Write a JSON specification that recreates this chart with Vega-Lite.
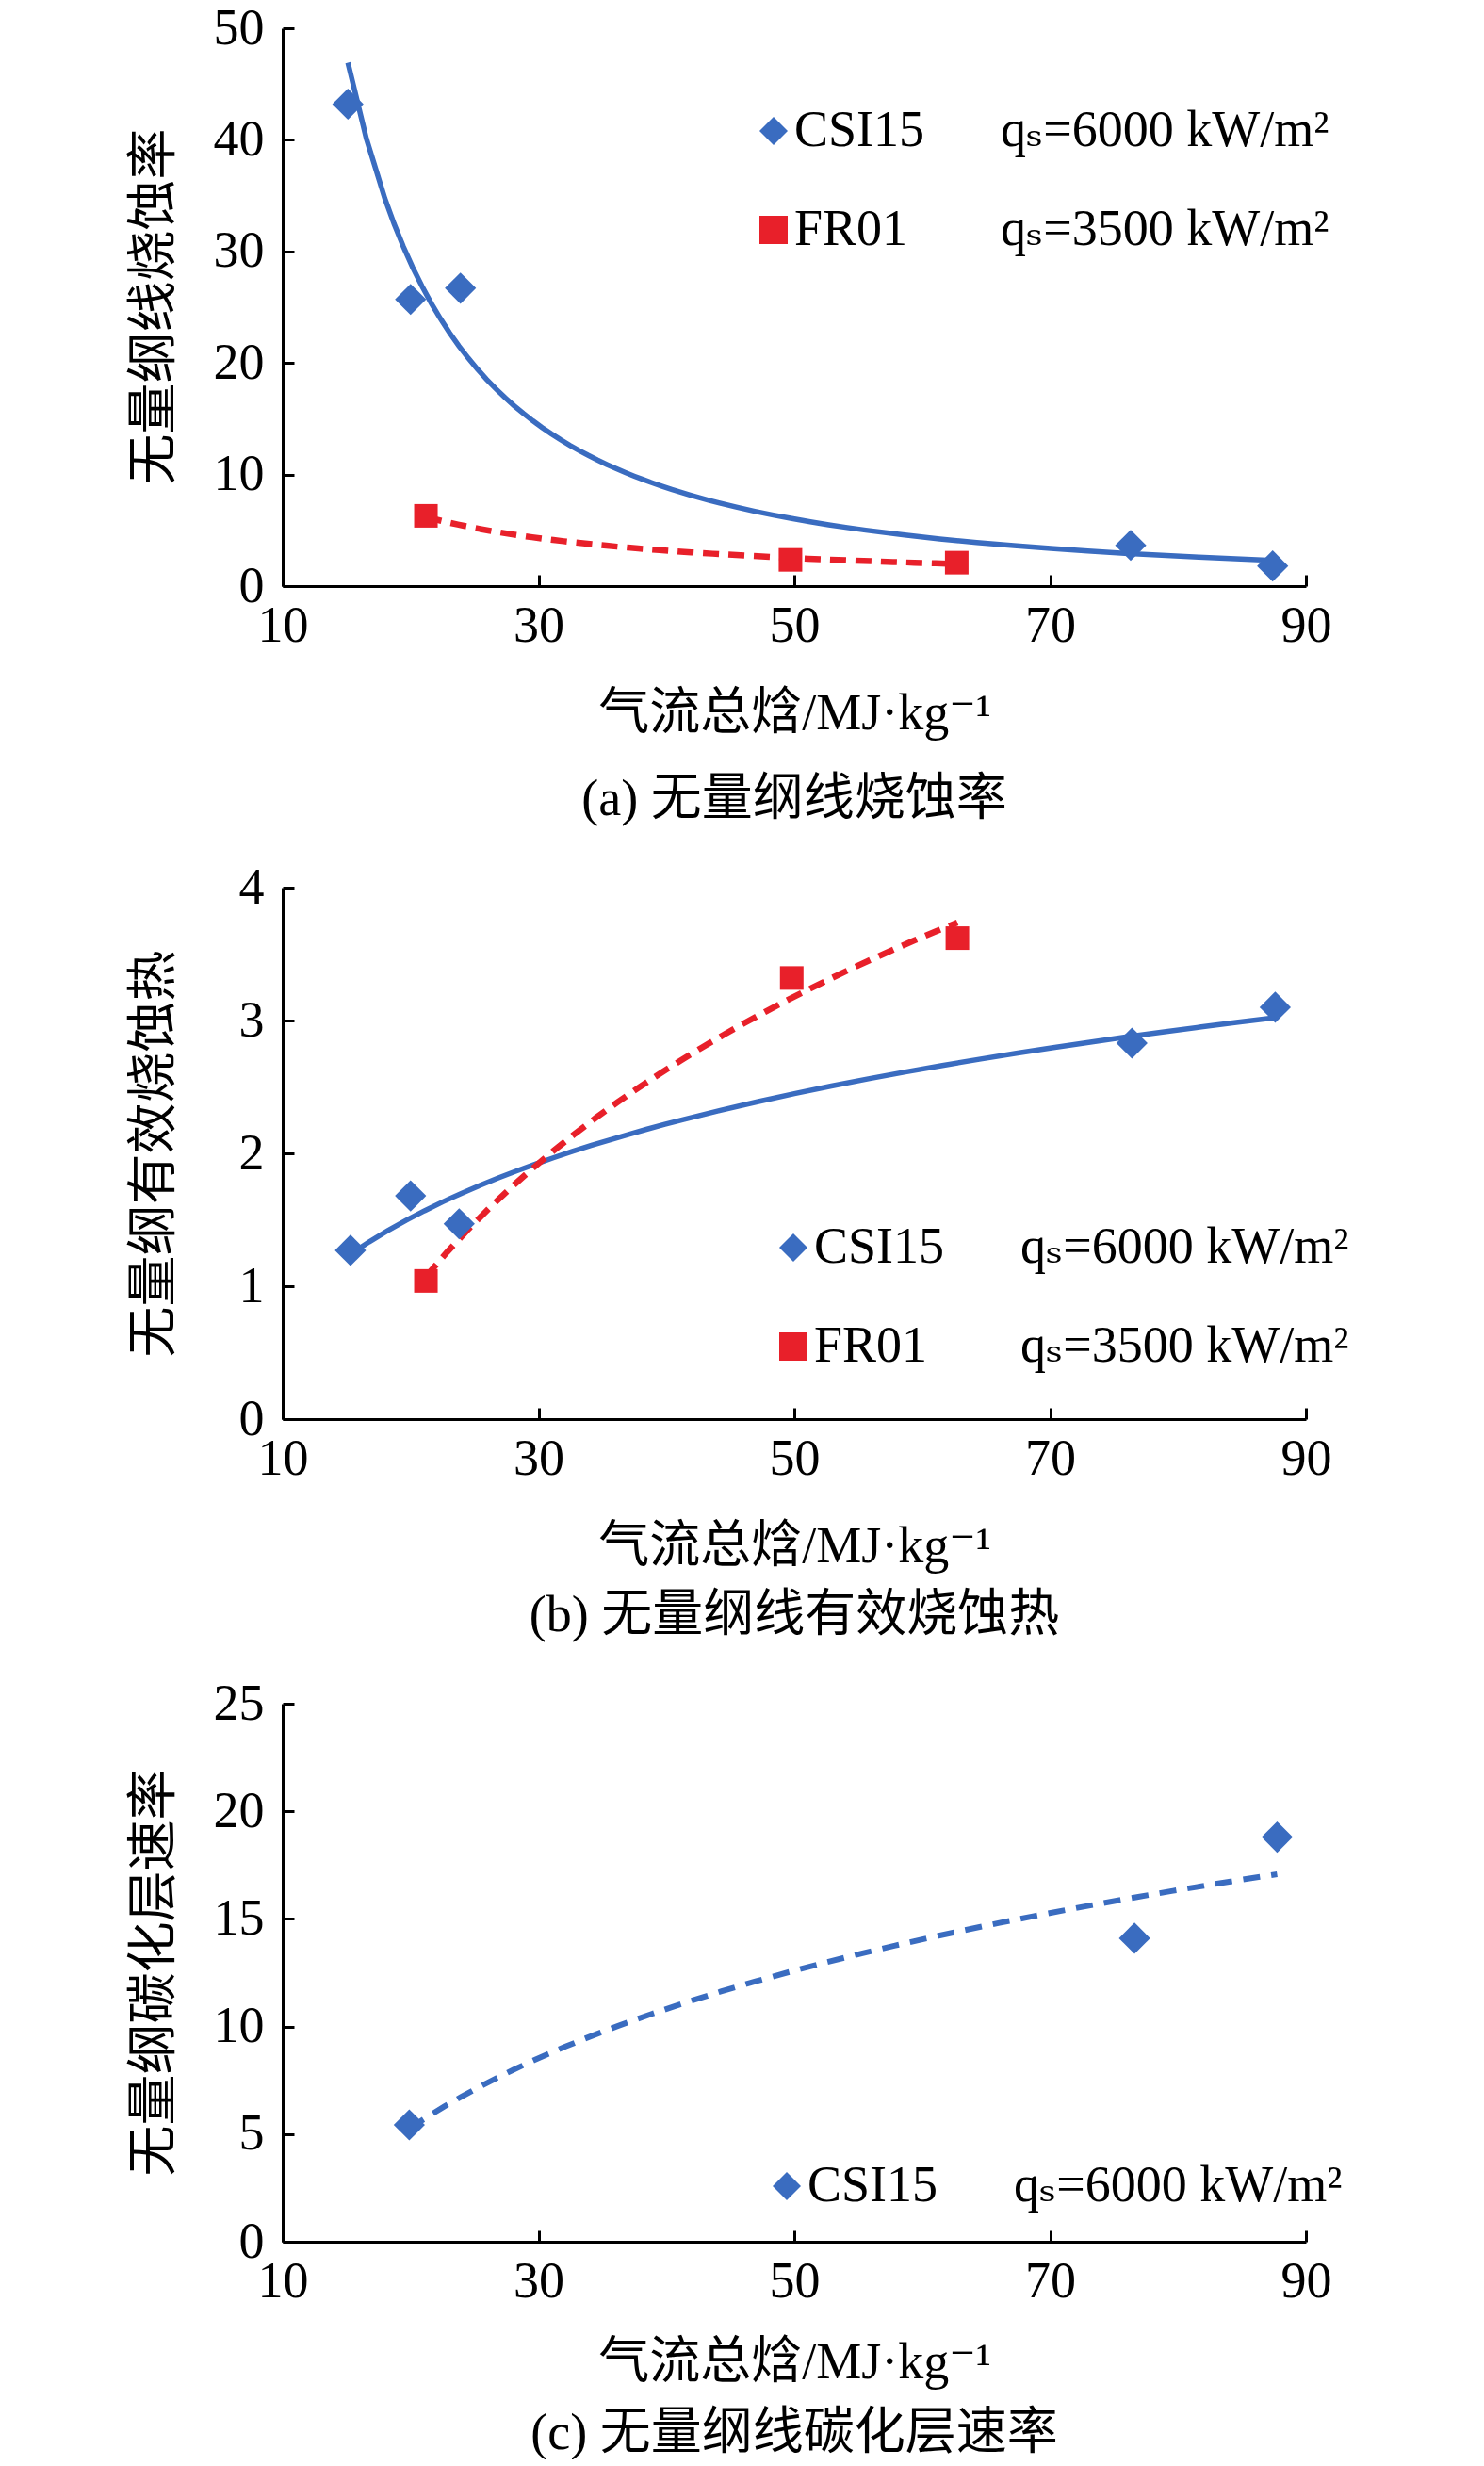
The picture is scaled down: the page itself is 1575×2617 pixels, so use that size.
{
  "$schema": "https://vega.github.io/schema/vega-lite/v6.json",
  "background": "white",
  "padding": {"left": 136, "top": 3, "right": 20, "bottom": 0},
  "spacing": 39,
  "config": {
    "font": "Liberation Serif, DejaVu Serif, Noto Sans CJK SC",
    "view": {"stroke": null},
    "axis": {
      "grid": false,
      "domainColor": "black",
      "domainWidth": 3,
      "tickColor": "black",
      "tickWidth": 3,
      "tickSize": -12,
      "labelFontSize": 54,
      "labelColor": "black",
      "labelFlush": false,
      "labelOverlap": false,
      "titleFontSize": 54,
      "titleFontWeight": "normal",
      "titleColor": "black"
    },
    "axisX": {"labelPadding": 27, "titleBaseline": "middle", "titleY": 135},
    "axisY": {"labelPadding": 32, "titleBaseline": "middle", "titleX": -136, "titleAngle": 270},
    "legend": {
      "orient": "none",
      "title": null,
      "labelFontSize": 54,
      "labelColor": "black",
      "labelLimit": 0,
      "symbolSize": 900,
      "symbolStrokeWidth": 0,
      "labelOffset": -5,
      "rowPadding": 51
    },
    "title": {"fontSize": 54, "fontWeight": "normal", "color": "black", "orient": "bottom", "offset": 34}
  },
  "datasets": {
    "pts": [
      {"panel": "a", "series": "CSI15", "x": 15.1, "y": 43.2},
      {"panel": "a", "series": "CSI15", "x": 20.0, "y": 25.7},
      {"panel": "a", "series": "CSI15", "x": 23.9, "y": 26.7},
      {"panel": "a", "series": "CSI15", "x": 76.3, "y": 3.65},
      {"panel": "a", "series": "CSI15", "x": 87.4, "y": 1.8},
      {"panel": "a", "series": "FR01", "x": 21.2, "y": 6.3},
      {"panel": "a", "series": "FR01", "x": 49.7, "y": 2.35},
      {"panel": "a", "series": "FR01", "x": 62.7, "y": 2.1},
      {"panel": "b", "series": "CSI15", "x": 15.3, "y": 1.27},
      {"panel": "b", "series": "CSI15", "x": 20.0, "y": 1.68},
      {"panel": "b", "series": "CSI15", "x": 23.8, "y": 1.47},
      {"panel": "b", "series": "CSI15", "x": 76.4, "y": 2.83},
      {"panel": "b", "series": "CSI15", "x": 87.6, "y": 3.1},
      {"panel": "b", "series": "FR01", "x": 21.2, "y": 1.04},
      {"panel": "b", "series": "FR01", "x": 49.8, "y": 3.32},
      {"panel": "b", "series": "FR01", "x": 62.75, "y": 3.62},
      {"panel": "c", "series": "CSI15", "x": 19.9, "y": 5.43},
      {"panel": "c", "series": "CSI15", "x": 76.6, "y": 14.1},
      {"panel": "c", "series": "CSI15", "x": 87.75, "y": 18.8}
    ]
  },
  "resolve": {
    "scale": {"color": "independent", "shape": "independent", "x": "independent", "y": "independent"},
    "legend": {"color": "independent", "shape": "independent"}
  },
  "vconcat": [
    {
      "width": 1086,
      "height": 592,
      "title": {"text": "(a) 无量纲线烧蚀率", "offset": 38},
      "data": {"name": "pts"},
      "transform": [{"filter": "datum.panel == 'a'"}],
      "encoding": {
        "x": {"field": "x", "type": "quantitative", "scale": {"domain": [10, 90]},
              "axis": {"values": [10, 30, 50, 70, 90], "title": "气流总焓/MJ·kg⁻¹"}},
        "y": {"field": "y", "type": "quantitative", "scale": {"domain": [0, 50]},
              "axis": {"values": [0, 10, 20, 30, 40, 50], "title": "无量纲线烧蚀率", "titleY": 295}}
      },
      "layer": [
        {
          "transform": [{"filter": "datum.series == 'CSI15'"}, {"regression": "y", "on": "x", "method": "pow"}],
          "mark": {"type": "line", "color": "#3a6cc0", "strokeWidth": 5.5}
        },
        {
          "transform": [{"filter": "datum.series == 'FR01'"}, {"regression": "y", "on": "x", "method": "pow"}],
          "mark": {"type": "line", "color": "#e8202a", "strokeWidth": 6.5, "strokeDash": [17, 10]}
        },
        {
          "mark": {"type": "point", "filled": true, "opacity": 1},
          "encoding": {
            "color": {"field": "series", "type": "nominal",
                      "scale": {"domain": ["CSI15", "FR01"], "range": ["#3a6cc0", "#e8202a"]},
                      "legend": {"legendX": 494, "legendY": 82,
                                 "labelExpr": "datum.label == 'CSI15' ? 'CSI15\u2003\u2002qₛ=6000 kW/m²' : 'FR01\u2003\u2002\u2004qₛ=3500 kW/m²'"}},
            "shape": {"field": "series", "type": "nominal",
                      "scale": {"domain": ["CSI15", "FR01"], "range": ["diamond", "square"]},
                      "legend": {"legendX": 494, "legendY": 82,
                                 "labelExpr": "datum.label == 'CSI15' ? 'CSI15\u2003\u2002qₛ=6000 kW/m²' : 'FR01\u2003\u2002\u2004qₛ=3500 kW/m²'"}},
            "size": {"condition": {"test": "datum.series == 'CSI15'", "value": 1100}, "value": 625}
          }
        }
      ]
    },
    {
      "width": 1086,
      "height": 564,
      "title": {"text": "(b) 无量纲线有效烧蚀热", "offset": 20},
      "data": {"name": "pts"},
      "transform": [{"filter": "datum.panel == 'b'"}],
      "encoding": {
        "x": {"field": "x", "type": "quantitative", "scale": {"domain": [10, 90]},
              "axis": {"values": [10, 30, 50, 70, 90], "title": "气流总焓/MJ·kg⁻¹"}},
        "y": {"field": "y", "type": "quantitative", "scale": {"domain": [0, 4]},
              "axis": {"values": [0, 1, 2, 3, 4], "title": "无量纲有效烧蚀热", "titleY": 282}}
      },
      "layer": [
        {
          "transform": [{"filter": "datum.series == 'CSI15'"}, {"regression": "y", "on": "x", "method": "log"}],
          "mark": {"type": "line", "color": "#3a6cc0", "strokeWidth": 5.5}
        },
        {
          "transform": [{"filter": "datum.series == 'FR01'"}, {"regression": "y", "on": "x", "method": "log"}],
          "mark": {"type": "line", "color": "#e8202a", "strokeWidth": 6.5, "strokeDash": [17, 10]}
        },
        {
          "mark": {"type": "point", "filled": true, "opacity": 1},
          "encoding": {
            "color": {"field": "series", "type": "nominal",
                      "scale": {"domain": ["CSI15", "FR01"], "range": ["#3a6cc0", "#e8202a"]},
                      "legend": {"legendX": 515, "legendY": 355,
                                 "labelExpr": "datum.label == 'CSI15' ? 'CSI15\u2003\u2002qₛ=6000 kW/m²' : 'FR01\u2003\u2002\u2004qₛ=3500 kW/m²'"}},
            "shape": {"field": "series", "type": "nominal",
                      "scale": {"domain": ["CSI15", "FR01"], "range": ["diamond", "square"]},
                      "legend": {"legendX": 515, "legendY": 355,
                                 "labelExpr": "datum.label == 'CSI15' ? 'CSI15\u2003\u2002qₛ=6000 kW/m²' : 'FR01\u2003\u2002\u2004qₛ=3500 kW/m²'"}},
            "size": {"condition": {"test": "datum.series == 'CSI15'", "value": 1100}, "value": 625}
          }
        }
      ]
    },
    {
      "width": 1086,
      "height": 571,
      "title": {"text": "(c) 无量纲线碳化层速率", "offset": 22},
      "data": {"name": "pts"},
      "transform": [{"filter": "datum.panel == 'c'"}],
      "encoding": {
        "x": {"field": "x", "type": "quantitative", "scale": {"domain": [10, 90]},
              "axis": {"values": [10, 30, 50, 70, 90], "title": "气流总焓/MJ·kg⁻¹", "titleY": 128}},
        "y": {"field": "y", "type": "quantitative", "scale": {"domain": [0, 25]},
              "axis": {"values": [0, 5, 10, 15, 20, 25], "title": "无量纲碳化层速率", "titleY": 285}}
      },
      "layer": [
        {
          "transform": [{"regression": "y", "on": "x", "method": "log"}],
          "mark": {"type": "line", "color": "#3a6cc0", "strokeWidth": 6, "strokeDash": [18, 12]}
        },
        {
          "mark": {"type": "point", "filled": true, "opacity": 1},
          "encoding": {
            "color": {"field": "series", "type": "nominal",
                      "scale": {"domain": ["CSI15"], "range": ["#3a6cc0"]},
                      "legend": {"legendX": 508, "legendY": 485,
                                 "labelExpr": "'CSI15\u2003\u2002qₛ=6000 kW/m²'"}},
            "shape": {"field": "series", "type": "nominal",
                      "scale": {"domain": ["CSI15"], "range": ["diamond"]},
                      "legend": {"legendX": 508, "legendY": 485,
                                 "labelExpr": "'CSI15\u2003\u2002qₛ=6000 kW/m²'"}},
            "size": {"value": 1100}
          }
        }
      ]
    }
  ]
}
